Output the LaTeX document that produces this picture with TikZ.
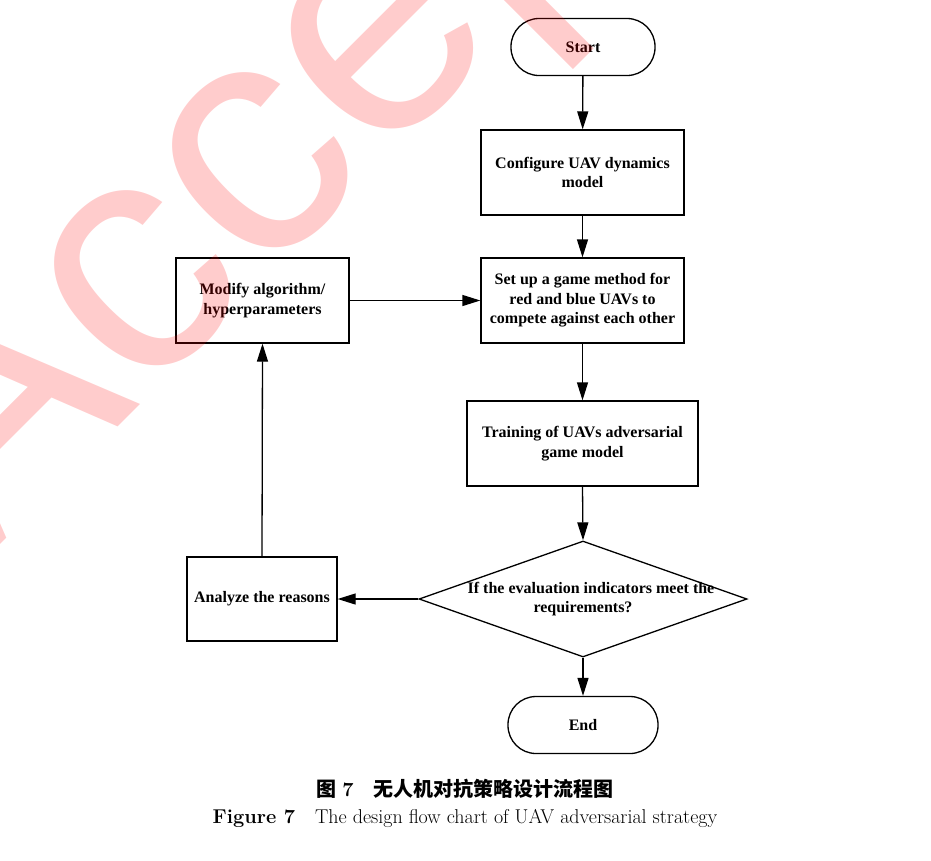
\documentclass[tikz,border=0pt]{standalone}
\usepackage{fontspec}
\newfontfamily\boxfont{Liberation Serif}
\newfontfamily\markfont{Liberation Sans}
\newfontfamily\cjkfont{Noto Sans CJK SC}
\usetikzlibrary{arrows.meta,shapes.geometric}
\definecolor{MarkClr}{rgb}{1,0,0}

\tikzset{
  flow/.style={draw,line width=1.3pt,align=center,inner sep=0pt,
    font=\boxfont\bfseries\fontsize{16}{19.5}\selectfont},
  stepbox/.style={flow,rectangle,minimum height=85pt},
  term/.style={flow,rectangle,rounded corners=28pt,minimum height=57pt},
  judge/.style={draw,line width=1.3pt,diamond,inner sep=0pt,
    minimum width=328pt,minimum height=116pt},
  link/.style={line width=1.3pt,-{Triangle[length=18pt,width=11pt]}},
  wmark/.style={inner sep=0pt,text=MarkClr,text opacity=0.2,
    font=\markfont\fontsize{334}{334}\selectfont}
}

\begin{document}
\begin{tikzpicture}[x=1pt,y=-1pt]
\useasboundingbox (0,0) rectangle (931,860);

% main column
\node[term,minimum width=144pt] (start) at (583,47) {Start};
\node[stepbox,minimum width=203pt] (config) at (582.5,172.5) {Configure UAV dynamics\\model};
\node[stepbox,minimum width=203pt] (setup) at (582.5,300.5) {Set up a game method for\\red and blue UAVs to\\compete against each other};
\node[stepbox,minimum width=231pt] (train) at (582.5,443.5) {Training of UAVs adversarial\\game model};
\node[judge] (judge) at (583,599) {};
\node[flow,draw=none] (ask) at (583,599) {\hspace*{16pt}If the evaluation indicators meet the\\requirements?};
\node[term,minimum width=150pt] (stop) at (583,725) {End};

% feedback column
\node[stepbox,minimum width=173pt] (modify) at (262.5,300.5) {Modify algorithm/\\hyperparameters};
\node[stepbox,minimum width=150pt,minimum height=84pt] (analyze) at (262,599) {Analyze the reasons};

\draw[link] (start) -- (config);
\draw[link] (config) -- (setup);
\draw[link] (setup) -- (train);
\draw[link] (train.south) -- (judge.north);
\draw[link] (judge.south) -- (stop.north);
\draw[link] (judge.west) -- (analyze.east);
\draw[link] (analyze.north) -- (modify.south);
\draw[link] (modify.east) -- (setup.west);

% caption
\node[anchor=base,inner sep=0pt,font=\fontsize{20}{24}\selectfont] (capcn) at (465,796)
  {{\cjkfont\bfseries 图}\ \textbf{7}\quad{\cjkfont\bfseries 无人机对抗策略设计流程图}};
\node[anchor=base,inner sep=0pt,font=\fontsize{20}{24}\selectfont] (capen) at (465,823)
  {\textbf{Figure 7}\quad The design flow chart of UAV adversarial strategy};

% watermark
\begin{scope}
\clip (0,0) rectangle (931,860);
\node[wmark,anchor=base west,rotate=45] (wm) at (-16.5,561.5) {Accepted};
\end{scope}
\end{tikzpicture}
\end{document}
